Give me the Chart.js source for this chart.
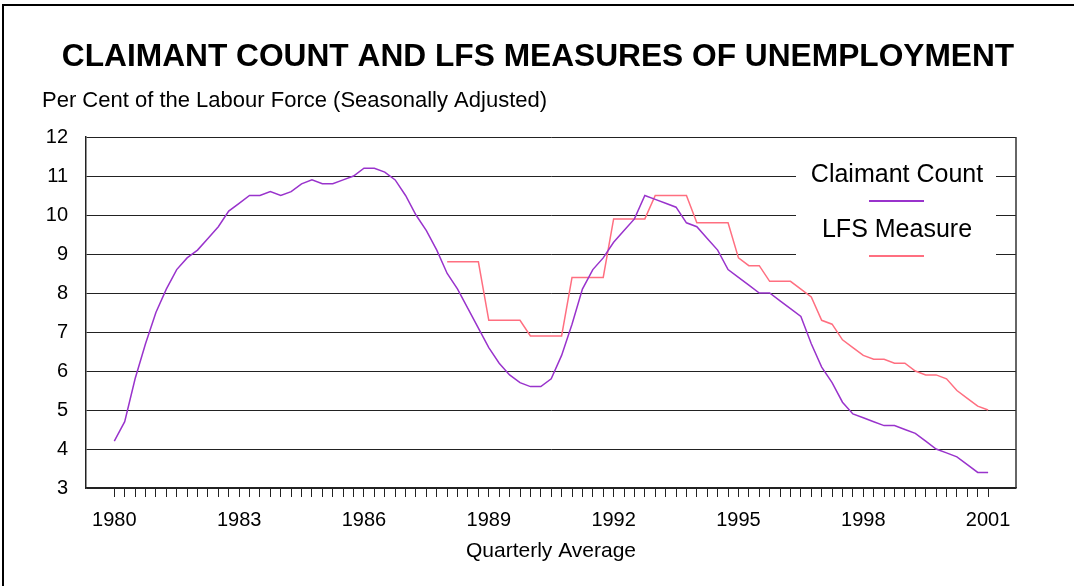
<!DOCTYPE html>
<html>
<head>
<meta charset="utf-8">
<title>Claimant count and LFS measures of unemployment</title>
<script src="https://cdn.jsdelivr.net/npm/chart.js@4.4.1/dist/chart.umd.min.js"></script>
<style>
  html, body { margin: 0; padding: 0; background: #fff; overflow: hidden; }
  #frame { position: absolute; left: 2px; top: 4px; width: 1100px; height: 700px; border: 2px solid #000; }
  #chart { position: absolute; left: 0; top: 0; }
</style>
</head>
<body>
<div id="frame"></div>
<canvas id="chart" width="1074" height="586"></canvas>
<script>
// --- Data (quarterly, per cent of labour force) ---
const chartTitle = 'CLAIMANT COUNT AND LFS MEASURES OF UNEMPLOYMENT';
const unitNote = 'Per Cent of the Labour Force (Seasonally Adjusted)';
const xTitle = 'Quarterly Average';

const firstYear = 1980;
const lastYear = 2001;
const labelYears = [1980, 1983, 1986, 1989, 1992, 1995, 1998, 2001];
const yTicks = [3, 4, 5, 6, 7, 8, 9, 10, 11, 12];

// Claimant Count, 1980 Q1 .. 2001 Q1
const claimantCount = [
  4.2, 4.7, 5.8, 6.7, 7.5, 8.1, 8.6, 8.9, 9.1, 9.4,
  9.7, 10.1, 10.3, 10.5, 10.5, 10.6, 10.5, 10.6, 10.8, 10.9,
  10.8, 10.8, 10.9, 11.0, 11.2, 11.2, 11.1, 10.9, 10.5, 10.0,
  9.6, 9.1, 8.5, 8.1, 7.6, 7.1, 6.6, 6.2, 5.9, 5.7,
  5.6, 5.6, 5.8, 6.4, 7.2, 8.1, 8.6, 8.9, 9.3, 9.6,
  9.9, 10.5, 10.4, 10.3, 10.2, 9.8, 9.7, 9.4, 9.1, 8.6,
  8.4, 8.2, 8.0, 8.0, 7.8, 7.6, 7.4, 6.7, 6.1, 5.7,
  5.2, 4.9, 4.8, 4.7, 4.6, 4.6, 4.5, 4.4, 4.2, 4.0,
  3.9, 3.8, 3.6, 3.4, 3.4
];

// LFS Measure, 1988 Q1 .. 2001 Q1 (annual figures until 1994)
const lfsStartYear = 1988;
const lfsMeasure = [
  8.8, 8.8, 8.8, 8.8, 7.3, 7.3, 7.3, 7.3, 6.9, 6.9, 6.9, 6.9,
  8.4, 8.4, 8.4, 8.4, 9.9, 9.9, 9.9, 9.9, 10.5, 10.5, 10.5, 10.5,
  9.8, 9.8, 9.8, 9.8,
  8.9, 8.7, 8.7, 8.3, 8.3, 8.3, 8.1, 7.9, 7.3, 7.2,
  6.8, 6.6, 6.4, 6.3, 6.3, 6.2, 6.2, 6.0, 5.9, 5.9,
  5.8, 5.5, 5.3, 5.1, 5.0
];

const FONT = '"Liberation Sans", Arial, sans-serif';
const claimantColor = '#9933CC';
const lfsColor = '#FF6F80';

const toPoints = (start, values) => values.map((v, i) => ({ x: start + i / 4, y: v }));

const quarterTicks = [];
for (let q = 0; q <= (lastYear - firstYear) * 4; q++) quarterTicks.push(firstYear + q / 4);

// --- Plugins: headings, plot frame, legend ---
const headings = {
  id: 'headings',
  beforeDraw(chart) {
    const ctx = chart.ctx;
    ctx.save();
    ctx.fillStyle = '#000';
    ctx.textBaseline = 'alphabetic';
    ctx.textAlign = 'center';
    ctx.font = 'bold 31.7px ' + FONT;
    ctx.fillText(chartTitle, 538, 66);
    ctx.textAlign = 'left';
    ctx.font = '22px ' + FONT;
    ctx.fillText(unitNote, 42, 107);
    ctx.restore();
  }
};

const plotFrame = {
  id: 'plotFrame',
  beforeDatasetsDraw(chart) {
    const { ctx, chartArea: a } = chart;
    ctx.save();
    ctx.strokeStyle = '#333';
    ctx.lineWidth = 1.5;
    ctx.beginPath();
    ctx.moveTo(a.right, a.top);
    ctx.lineTo(a.right, a.bottom);
    ctx.stroke();
    ctx.restore();
  }
};

const legendBox = {
  id: 'legendBox',
  afterDatasetsDraw(chart) {
    const { ctx, chartArea: a } = chart;
    const left = a.right - 220, top = a.top + 13;
    const cx = left + 101;
    ctx.save();
    ctx.fillStyle = '#fff';
    ctx.fillRect(left, top, 200, 122);
    ctx.font = '25px ' + FONT;
    ctx.textAlign = 'center';
    ctx.textBaseline = 'alphabetic';
    chart.data.datasets.forEach((ds, i) => {
      const base = top + 32 + i * 55;
      ctx.fillStyle = '#000';
      ctx.fillText(ds.label, cx, base);
      ctx.strokeStyle = ds.borderColor;
      ctx.lineWidth = 2;
      ctx.beginPath();
      ctx.moveTo(cx - 28, base + 19);
      ctx.lineTo(cx + 27, base + 19);
      ctx.stroke();
    });
    ctx.restore();
  }
};

new Chart(document.getElementById('chart'), {
  type: 'line',
  data: {
    datasets: [
      {
        label: 'Claimant Count',
        data: toPoints(firstYear, claimantCount),
        borderColor: claimantColor,
        borderWidth: 1.5,
        pointRadius: 0,
        tension: 0
      },
      {
        label: 'LFS Measure',
        data: toPoints(lfsStartYear, lfsMeasure),
        borderColor: lfsColor,
        borderWidth: 1.5,
        pointRadius: 0,
        tension: 0
      }
    ]
  },
  options: {
    responsive: false,
    animation: false,
    events: [],
    layout: { padding: { left: 42, top: 137, right: 58, bottom: 0 } },
    plugins: {
      legend: { display: false },
      title: { display: false },
      tooltip: { enabled: false }
    },
    scales: {
      x: {
        type: 'linear',
        min: 1979.32,
        max: 2001.67,
        afterBuildTicks: (scale) => { scale.ticks = quarterTicks.map(v => ({ value: v })); },
        afterFit: (scale) => { scale.height = 98; },
        grid: { drawOnChartArea: false, drawTicks: true, tickLength: 9, color: '#222', lineWidth: 1 },
        border: { color: '#222', width: 1.5 },
        ticks: {
          autoSkip: false,
          maxRotation: 0,
          padding: 11,
          color: '#000',
          font: { family: FONT, size: 20 },
          callback: (v) => labelYears.includes(v) ? String(v) : ''
        },
        title: {
          display: true,
          text: xTitle,
          color: '#000',
          font: { family: FONT, size: 21 },
          padding: { top: 4, bottom: 22 }
        }
      },
      y: {
        min: yTicks[0],
        max: yTicks[yTicks.length - 1],
        afterBuildTicks: (scale) => { scale.ticks = yTicks.map(v => ({ value: v })); },
        afterFit: (scale) => { scale.width = 44; },
        grid: { drawTicks: false, color: '#222', lineWidth: 1 },
        border: { color: '#222', width: 1.5 },
        ticks: {
          padding: 18,
          color: '#000',
          font: { family: FONT, size: 20 }
        }
      }
    }
  },
  plugins: [headings, plotFrame, legendBox]
});
</script>
</body>
</html>
